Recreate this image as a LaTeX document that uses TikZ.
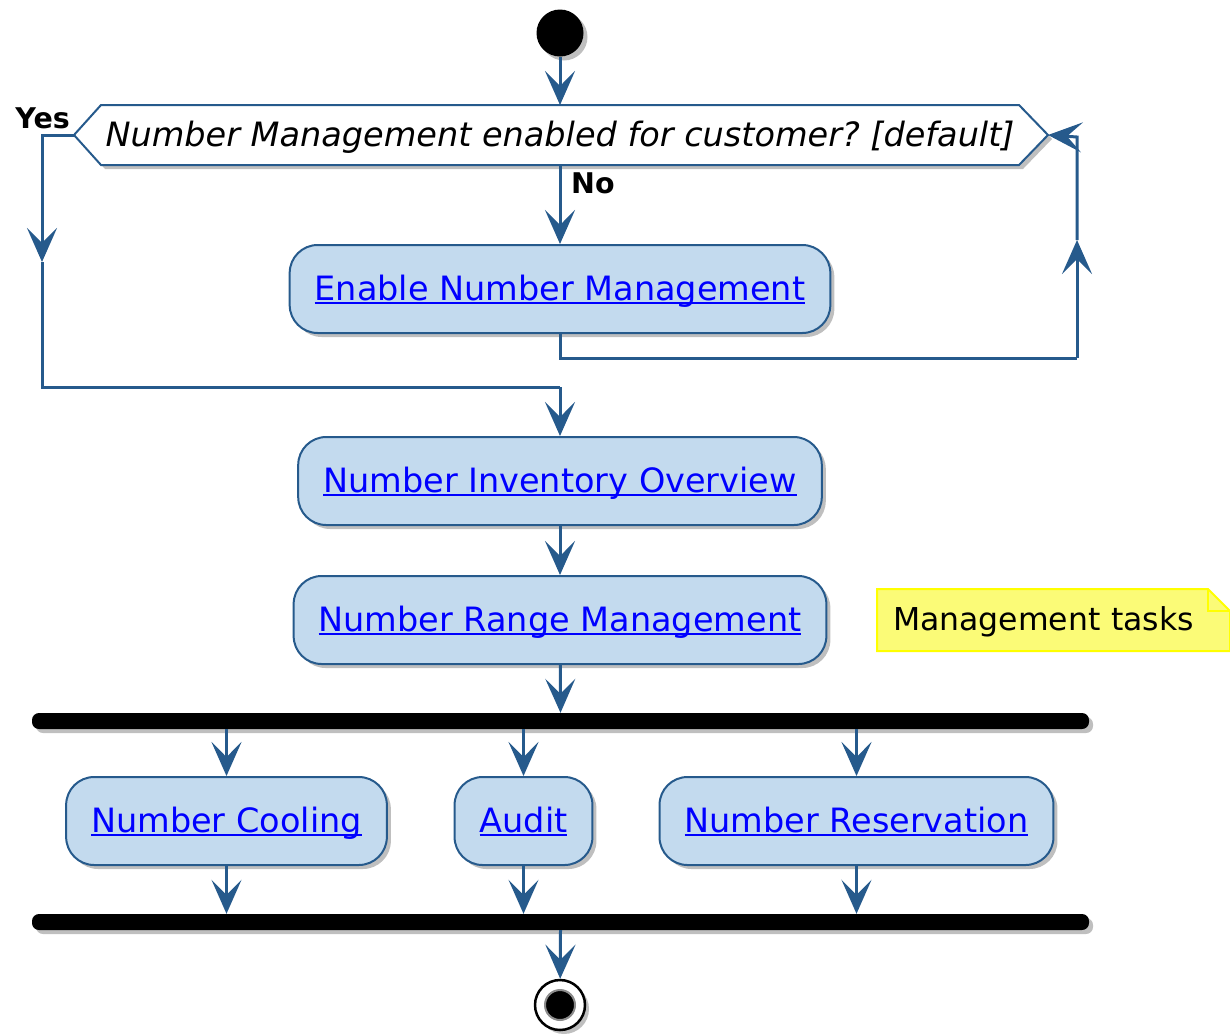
\documentclass[tikz,border=0pt]{standalone}
\usepackage{fontspec}
\setmainfont{DejaVu Sans}
\usetikzlibrary{arrows.meta,shadows,backgrounds}
\frenchspacing

\definecolor{flowblue}{RGB}{38,90,140}
\definecolor{actfill}{RGB}{195,218,238}
\definecolor{notefill}{RGB}{251,251,119}
\definecolor{notedge}{RGB}{255,255,0}
\definecolor{linkblue}{RGB}{0,0,255}

\newcommand\actfont{\fontsize{33.5}{40}\selectfont}
\newcommand\lblfont{\fontsize{28.5}{34}\selectfont\bfseries}
\newcommand\notefont{\fontsize{31.5}{38}\selectfont}
\newsavebox\linkbox
\newcommand\linktext[1]{\sbox\linkbox{\color{linkblue}#1}%
  {\color{linkblue}\rlap{\rule[-4pt]{\wd\linkbox}{2pt}}}\usebox\linkbox}

\begin{document}
\begin{tikzpicture}[x=1pt,y=-1pt,
  wire/.style={draw=flowblue,line width=3pt},
  flow/.style={wire,-{Stealth[length=34pt,width=30pt,inset=15pt]}},
  shade/.style={drop shadow={shadow xshift=4pt,shadow yshift=-4pt,opacity=0.5}},
  act/.style={draw=flowblue,line width=2pt,fill=actfill,rounded corners=28pt,
    minimum height=88pt,inner xsep=25pt,text height=24pt,text depth=2pt,
    font=\actfont,shade},
  bar/.style={fill=black,rounded corners=7pt,minimum width=1057pt,
    minimum height=16pt,inner sep=0pt,shade},
  lbl/.style={font=\lblfont,inner sep=0pt}]

  \useasboundingbox (0,0) rectangle (1230,1034);

  % Start
  \node[circle,fill=black,minimum size=47pt,inner sep=0pt,shade] (start) at (560,33) {};

  % Check
  \node[font=\actfont\itshape,minimum width=918pt,minimum height=60pt,
    text height=24pt,text depth=2pt,inner sep=0pt,outer sep=0pt] (decide)
    at (560,135) {Number Management enabled for customer? [default]};
  \coordinate (yesTip) at ([xshift=-27pt]decide.west);
  \coordinate (loopIn) at ([xshift=29pt]decide.east);
  \begin{scope}[on background layer]
    \draw[draw=flowblue,line width=2pt,fill=white,shade]
      (decide.north west) -- (decide.north east) -- (loopIn)
      -- (decide.south east) -- (decide.south west) -- (yesTip) -- cycle;
  \end{scope}
  \node[lbl,anchor=base east] (yes) at (70,128) {Yes};
  \node[lbl,anchor=base west] (no) at (571,193) {No};

  % Actions
  \node[act] (enable) at (560,289) {\linktext{Enable Number Management}};
  \node[act] (inventory) at (560,481) {\linktext{Number Inventory Overview}};
  \node[act] (range) at (560,620) {\linktext{Number Range Management}};

  % Note
  \node[font=\notefont,anchor=west,minimum width=353pt,minimum height=62pt,
    text width=321pt,text height=23pt,text depth=2pt,inner xsep=16pt,
    inner ysep=0pt,outer sep=0pt,align=left]
    (note) at (877,620) {Management tasks};
  \begin{scope}[on background layer]
    \draw[draw=notedge,line width=2pt,fill=notefill]
      (note.north west) -- ([xshift=-22pt]note.north east)
      -- ([yshift=-22pt]note.north east) -- (note.south east)
      -- (note.south west) -- cycle;
    \draw[notedge,line width=2pt]
      ([xshift=-22pt]note.north east) |- ([yshift=-22pt]note.north east);
  \end{scope}

  % Fork and join
  \node[bar] (fork) at (560.5,721) {};
  \node[act] (cooling) at (226.5,821) {\linktext{Number Cooling}};
  \node[act] (audit) at (523.5,821) {\linktext{Audit}};
  \node[act] (reserve) at (856.5,821) {\linktext{Number Reservation}};
  \node[bar] (join) at (560.5,922) {};

  % Stop
  \node[circle,draw=black,line width=2.5pt,fill=white,minimum size=50pt,
    inner sep=0pt,shade] (stop) at (560,1005) {};
  \node[circle,fill=black,draw=black!45,line width=2pt,minimum size=30pt,
    inner sep=0pt] (stopdot) at (stop) {};

  % Flow
  \draw[flow] (start) -- (decide.north);
  \draw[flow] (decide.south) -- (enable.north);

  % Loop back
  \coordinate (loopLow) at (1077,358);
  \coordinate (loopMid) at (1077,240);
  \coordinate (loopTop) at (1077,137);
  \draw[wire] (enable.south) |- (loopLow);
  \draw[flow] (loopLow) -- (loopMid);
  \draw[flow] (loopMid) -- (loopTop) -- (loopIn);

  % Exit
  \coordinate (yesTurn) at (42,135);
  \coordinate (yesMid) at (42,262);
  \coordinate (merge) at (560,387);
  \draw[flow] (yesTip) -- (yesTurn) -- (yesMid);
  \draw[wire] (yesMid) |- (merge);
  \draw[flow] (merge) -- (inventory.north);

  \draw[flow] (inventory) -- (range);
  \draw[flow] (range) -- (fork.north);
  \foreach \task in {cooling,audit,reserve} {
    \draw[flow] (fork.south -| \task.north) -- (\task.north);
    \draw[flow] (\task.south) -- (\task.south |- join.north);
  }
  \draw[flow] (join.south) -- (stop);
\end{tikzpicture}
\end{document}
